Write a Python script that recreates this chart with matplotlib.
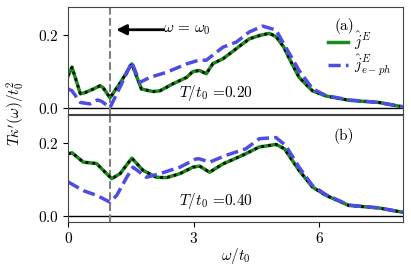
import matplotlib
matplotlib.use("Agg")
import matplotlib.pyplot as plt

plt.rcParams['mathtext.fontset'] = 'cm'
plt.rcParams['font.family'] = 'serif'
plt.rcParams['font.serif'] = ['DejaVu Serif']

# panel (a), T/t0 = 0.20
w_a_jE = [0.0, 0.09, 0.29, 0.4, 0.6, 0.76, 0.83, 1.0, 1.25, 1.52, 1.75, 2.03, 2.19, 2.5, 2.83,
          2.98, 3.14, 3.3, 3.46, 3.7, 4.02, 4.33, 4.6, 4.81, 4.97, 5.15, 5.29, 5.52, 5.84,
          6.16, 6.71, 7.43, 8.0]
a_jE = [0.089, 0.112, 0.039, 0.042, 0.052, 0.061, 0.056, 0.028, 0.07, 0.121, 0.052, 0.045, 0.047,
        0.066, 0.084, 0.1, 0.103, 0.094, 0.122, 0.135, 0.163, 0.19, 0.2, 0.205, 0.196, 0.168,
        0.135, 0.084, 0.047, 0.033, 0.021, 0.015, 0.003]
w_a_eph = [0.0, 0.09, 0.29, 0.52, 0.7, 0.8, 1.0, 1.25, 1.52, 1.71, 1.95, 2.35, 2.83, 3.14, 3.3,
           3.7, 4.02, 4.33, 4.65, 4.97, 5.2, 5.52, 5.84, 6.16, 6.71, 7.43, 8.0]
a_eph = [0.052, 0.047, 0.015, 0.011, 0.022, 0.018, 0.001, 0.06, 0.126, 0.07, 0.084, 0.098, 0.121,
         0.132, 0.131, 0.167, 0.181, 0.209, 0.225, 0.214, 0.167, 0.103, 0.053, 0.034, 0.022,
         0.015, 0.003]

# panel (b), T/t0 = 0.40
w_b_jE = [0.0, 0.09, 0.36, 0.68, 0.84, 1.04, 1.24, 1.52, 1.79, 2.11, 2.35, 2.67, 2.98, 3.14,
          3.38, 3.7, 4.17, 4.57, 4.97, 5.17, 5.52, 5.84, 6.16, 6.71, 7.43, 8.0]
b_jE = [0.171, 0.174, 0.148, 0.144, 0.125, 0.102, 0.116, 0.159, 0.125, 0.106, 0.105, 0.116,
        0.134, 0.137, 0.12, 0.143, 0.167, 0.19, 0.197, 0.185, 0.125, 0.079, 0.056, 0.028,
        0.021, 0.009]
w_b_eph = [0.0, 0.36, 0.68, 1.0, 1.16, 1.4, 1.55, 1.87, 2.19, 2.67, 3.06, 3.14, 3.38, 3.78,
           4.25, 4.57, 4.97, 5.2, 5.52, 5.84, 6.16, 6.71, 7.43, 8.0]
b_eph = [0.093, 0.069, 0.056, 0.037, 0.056, 0.106, 0.134, 0.106, 0.116, 0.134, 0.157, 0.157,
         0.148, 0.167, 0.185, 0.213, 0.216, 0.194, 0.134, 0.083, 0.058, 0.029, 0.021, 0.009]

panels = [(w_a_jE, a_jE, w_a_eph, a_eph, "0.20", "(a)"),
          (w_b_jE, b_jE, w_b_eph, b_eph, "0.40", "(b)")]

green = "#1a8c1a"
blue = "#4d4de6"

fig = plt.figure(figsize=(4.11, 2.73), dpi=100)
axes = [fig.add_axes([0.166, 0.582, 0.814, 0.393]),
        fig.add_axes([0.166, 0.188, 0.814, 0.390])]

for ax, (wj, j, we, e, T, lab) in zip(axes, panels):
    ax.axhline(0, color="black", lw=1.0)
    ax.axvline(1.0, color="gray", ls="--", lw=1.5)
    l1, = ax.plot(wj, j, color=green, lw=2.5, label=r"$\hat{j}^E$")
    ax.plot(wj, j, color="black", lw=2.0, ls=(0, (1, 1.5)))
    l2, = ax.plot(we, e, color=blue, lw=2.5, ls=(0, (3.5, 1.5)), label=r"$\hat{j}^E_{e-ph}$")
    ax.set_xlim(0, 8.0)
    ax.set_ylim(-0.017, 0.278)
    ax.set_yticks([0.0, 0.2])
    ax.set_yticklabels([r"$0.0$", r"$0.2$"], fontsize=11)
    ax.set_xticks([0, 3, 6])
    ax.text(2.64, 0.04, r"$T/t_0$ =" + T, family="cmr10", fontsize=11, va="center", ha="left")
    ax.text(6.6, 0.225 if lab == "(a)" else 0.22, lab, family="cmr10", fontsize=11,
            ha="center", va="center")
    for s in ax.spines.values():
        s.set_color("#444444")

axes[0].set_xticklabels([])
axes[1].set_xticklabels([r"$0$", r"$3$", r"$6$"], fontsize=11)
axes[1].set_xlabel(r"$\omega/t_0$", fontsize=11, labelpad=0)
fig.text(0.038, 0.585, r"$T\kappa'(\omega)/t_0^2$", rotation=90, fontsize=11, ha="center", va="center")

axes[0].legend(handles=[l1, l2], loc="upper right", bbox_to_anchor=(0.995, 0.87), frameon=False,
               fontsize=11, handlelength=1.3, handletextpad=0.4, labelspacing=0.05, borderaxespad=0.2)

axes[0].annotate("", xy=(1.08, 0.215), xytext=(2.35, 0.215),
                 arrowprops=dict(arrowstyle="-|>", color="black", lw=2, mutation_scale=15))
axes[0].text(2.27, 0.215, r"$\omega\,=\,\omega_0$", fontsize=11, va="center", ha="left")

fig.savefig("out.png", dpi=100)
